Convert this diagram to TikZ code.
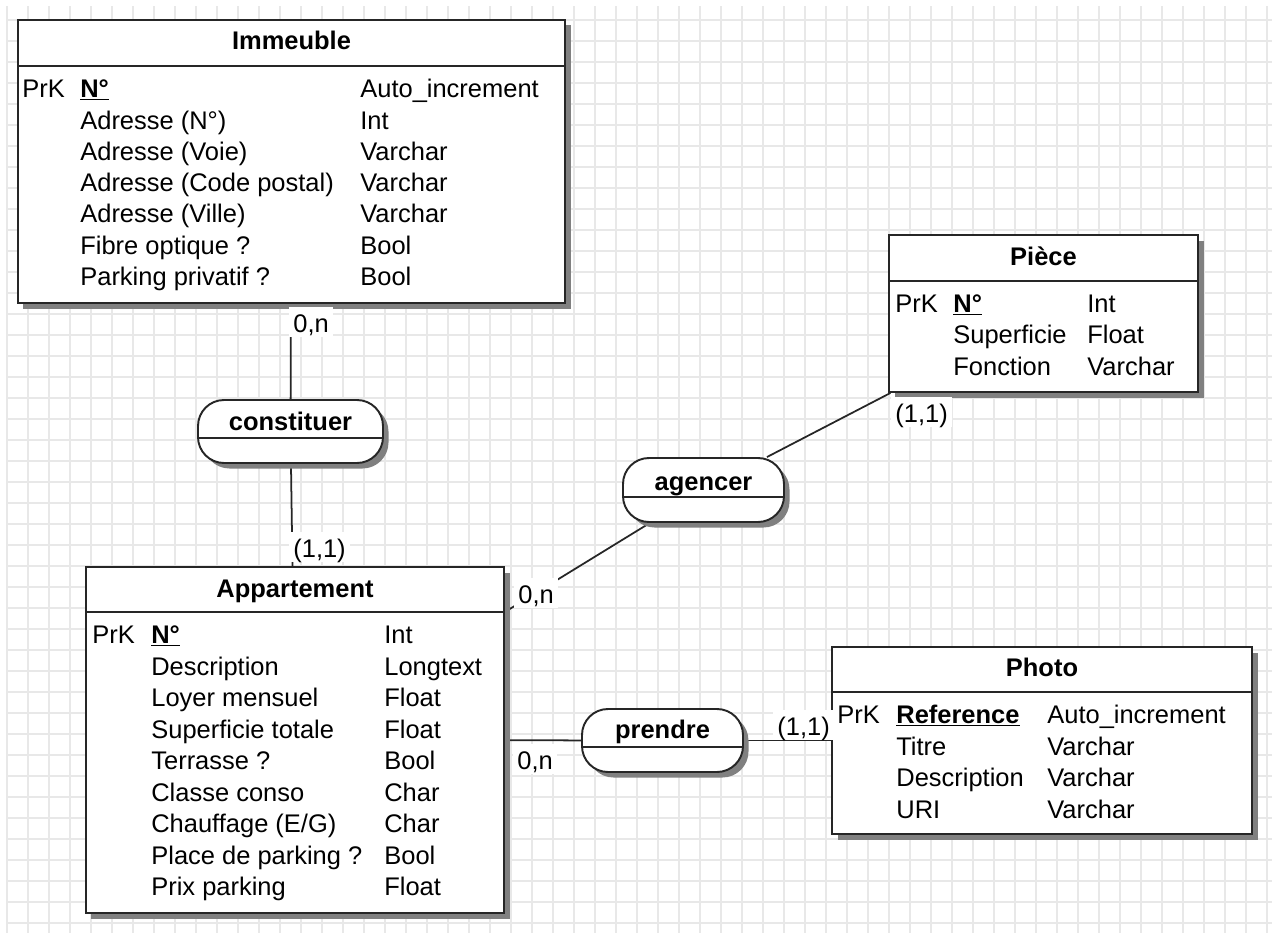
\documentclass[tikz,border=0pt]{standalone}
\usepackage{fontspec}
\setmainfont{Liberation Sans}
\usetikzlibrary{fit,shadows,backgrounds}

\newcommand{\txt}{\fontsize{14.5}{17}\selectfont}
\newcommand{\cle}[1]{\underline{\textbf{#1}}}

\tikzset{
  grille/.style={black!9, line width=0.9pt},
  entite/.style={draw=black!85, line width=1.1pt, fill=white, inner sep=0pt,
    drop shadow={shadow xshift=0.11cm, shadow yshift=-0.11cm, fill=black!50, opacity=1}},
  relation/.style={entite, rounded corners=0.52cm},
  sep/.style={black!85, line width=1.1pt},
  titre/.style={font=\txt\bfseries, anchor=base, inner sep=0pt},
  attr/.style={font=\txt, anchor=base west, inner sep=0pt},
  card/.style={font=\txt, anchor=base west, fill=white, inner xsep=0.08cm, inner ysep=0pt,
    text height=0.5cm, text depth=0.1cm},
  lien/.style={black!85, line width=1pt}
}

\begin{document}
\begin{tikzpicture}[x=0.02cm, y=-0.02cm] %1 unité = 1 pixel
  \useasboundingbox (0,0) rectangle (1272,933);

  %Entité Immeuble
  \node[entite, fit={(18,20) (565,303)}] (immeuble) {};
  \draw[sep] (18,66) -- (565,66);
  \node[titre] (imm-titre) at (291.5,50) {Immeuble};
  \node[attr] (imm-cle) at (22,97) {PrK};
  \node[attr] (imm-n1) at (80,97) {\cle{N°}};
  \node[attr] (imm-n2) at (80,129) {Adresse (N°)};
  \node[attr] (imm-n3) at (80,160) {Adresse (Voie)};
  \node[attr] (imm-n4) at (80,191) {Adresse (Code postal)};
  \node[attr] (imm-n5) at (80,222) {Adresse (Ville)};
  \node[attr] (imm-n6) at (80,254) {Fibre optique ?};
  \node[attr] (imm-n7) at (80,285) {Parking privatif ?};
  \node[attr] (imm-t1) at (360,97) {Auto\_increment};
  \node[attr] (imm-t2) at (360,129) {Int};
  \node[attr] (imm-t3) at (360,160) {Varchar};
  \node[attr] (imm-t4) at (360,191) {Varchar};
  \node[attr] (imm-t5) at (360,222) {Varchar};
  \node[attr] (imm-t6) at (360,254) {Bool};
  \node[attr] (imm-t7) at (360,285) {Bool};

  %Entité Pièce
  \node[entite, fit={(889,235) (1198,392)}] (piece) {};
  \draw[sep] (889,281) -- (1198,281);
  \node[titre] (pie-titre) at (1043.5,265) {Pièce};
  \node[attr] (pie-cle) at (895,312) {PrK};
  \node[attr] (pie-n1) at (953,312) {\cle{N°}};
  \node[attr] (pie-n2) at (953,343) {Superficie};
  \node[attr] (pie-n3) at (953,375) {Fonction};
  \node[attr] (pie-t1) at (1087,312) {Int};
  \node[attr] (pie-t2) at (1087,343) {Float};
  \node[attr] (pie-t3) at (1087,375) {Varchar};

  %Entité Appartement
  \node[entite, fit={(86,567) (504,913)}] (appart) {};
  \draw[sep] (86,612) -- (504,612);
  \node[titre] (app-titre) at (295,597) {Appartement};
  \node[attr] (app-cle) at (92,643) {PrK};
  \node[attr] (app-n1) at (151,643) {\cle{N°}};
  \node[attr] (app-n2) at (151,675) {Description};
  \node[attr] (app-n3) at (151,706) {Loyer mensuel};
  \node[attr] (app-n4) at (151,738) {Superficie totale};
  \node[attr] (app-n5) at (151,769) {Terrasse ?};
  \node[attr] (app-n6) at (151,801) {Classe conso};
  \node[attr] (app-n7) at (151,832) {Chauffage (E/G)};
  \node[attr] (app-n8) at (151,864) {Place de parking ?};
  \node[attr] (app-n9) at (151,895) {Prix parking};
  \node[attr] (app-t1) at (384,643) {Int};
  \node[attr] (app-t2) at (384,675) {Longtext};
  \node[attr] (app-t3) at (384,706) {Float};
  \node[attr] (app-t4) at (384,738) {Float};
  \node[attr] (app-t5) at (384,769) {Bool};
  \node[attr] (app-t6) at (384,801) {Char};
  \node[attr] (app-t7) at (384,832) {Char};
  \node[attr] (app-t8) at (384,864) {Bool};
  \node[attr] (app-t9) at (384,895) {Float};

  %Entité Photo
  \node[entite, fit={(832,647) (1252,834)}] (photo) {};
  \draw[sep] (832,692) -- (1252,692);
  \node[titre] (pho-titre) at (1042,676) {Photo};
  \node[attr] (pho-cle) at (837,723) {PrK};
  \node[attr] (pho-n1) at (896,723) {\cle{Reference}};
  \node[attr] (pho-n2) at (896,755) {Titre};
  \node[attr] (pho-n3) at (896,786) {Description};
  \node[attr] (pho-n4) at (896,818) {URI};
  \node[attr] (pho-t1) at (1047,723) {Auto\_increment};
  \node[attr] (pho-t2) at (1047,755) {Varchar};
  \node[attr] (pho-t3) at (1047,786) {Varchar};
  \node[attr] (pho-t4) at (1047,818) {Varchar};

  %Associations
  \node[relation, fit={(198,400) (383,463)}] (constituer) {};
  \draw[sep] (198,438) -- (383,438);
  \node[titre] (con-titre) at (290.5,430) {constituer};
  \node[relation, fit={(623,458) (784,522)}] (agencer) {};
  \draw[sep] (623,497) -- (784,497);
  \node[titre] (age-titre) at (703.5,490) {agencer};
  \node[relation, fit={(582,709) (743,772)}] (prendre) {};
  \draw[sep] (582,747) -- (743,747);
  \node[titre] (pre-titre) at (662.5,738) {prendre};

  %Grille et liens
  \begin{scope}[on background layer]
    \foreach \gx in {0,...,60}
      \draw[grille] ({7+21*\gx},6) -- ({7+21*\gx},933);
    \foreach \gy in {0,...,43}
      \draw[grille] (7,{20+21*\gy}) -- (1272,{20+21*\gy});
    \draw[lien] (immeuble) -- (constituer);
    \draw[lien] (constituer) -- (appart);
    \draw[lien] (piece) -- (agencer);
    \draw[lien] (agencer) -- (appart);
    \draw[lien] (appart) -- (prendre);
    \draw[lien] (prendre) -- (photo);
  \end{scope}

  %Cardinalités
  \node[card] (card-imm) at (289,332) {0,n};
  \node[card] (card-app1) at (289,557) {(1,1)};
  \node[card] (card-pie) at (891,422) {(1,1)};
  \node[card] (card-app2) at (514,603) {0,n};
  \node[card] (card-app3) at (513,769) {0,n};
  \node[card] (card-pho) at (773,735) {(1,1)};
\end{tikzpicture}
\end{document}
